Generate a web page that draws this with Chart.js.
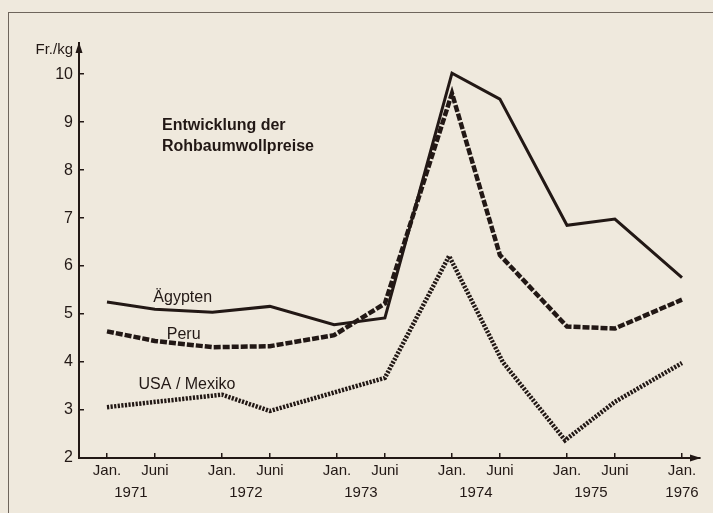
<!DOCTYPE html>
<html>
<head>
<meta charset="utf-8">
<script src="https://cdn.jsdelivr.net/npm/chart.js@4.4.1/dist/chart.umd.min.js"></script>
<style>
  html, body { margin: 0; padding: 0; background: #efe9dd; }
  .wrap { position: relative; width: 713px; height: 513px; overflow: hidden; }
  .frame { position: absolute; left: 8px; top: 12px; width: 900px; height: 700px;
           border-top: 1.5px solid #6e655c; border-left: 1.5px solid #6e655c; }
  canvas { position: absolute; left: 0; top: 0; }
</style>
</head>
<body>
<div class="wrap">
  <div class="frame"></div>
  <canvas id="chart" width="713" height="513"></canvas>
</div>
<script>
// months counted from Jan. 1971
const egyptMonths = [0, 5, 11, 17, 23.7, 29, 36, 41, 48, 53, 60];
const egyptPrices = [5.25, 5.1, 5.04, 5.16, 4.78, 4.92, 10.02, 9.48, 6.85, 6.98, 5.76];

const peruMonths = [0, 5, 11, 17, 23.7, 29, 36, 41, 48, 53, 60];
const peruPrices = [4.64, 4.44, 4.31, 4.33, 4.56, 5.22, 9.6, 6.23, 4.74, 4.7, 5.3];

const usaMonths = [0, 12, 17, 29, 35.7, 41.3, 47.8, 53, 60];
const usaPrices = [3.06, 3.32, 2.98, 3.67, 6.21, 4.0, 2.37, 3.17, 3.98];

const monthTicks = [0, 5, 12, 17, 24, 29, 36, 41, 48, 53, 60];
const monthLabels = ['Jan.', 'Juni', 'Jan.', 'Juni', 'Jan.', 'Juni', 'Jan.', 'Juni', 'Jan.', 'Juni', 'Jan.'];
const yearTicks = [2.5, 14.5, 26.5, 38.5, 50.5, 60];
const yearLabels = ['1971', '1972', '1973', '1974', '1975', '1976'];
const priceTicks = [2, 3, 4, 5, 6, 7, 8, 9, 10];

const ink = '#221815';
const font = "'Liberation Sans', Arial, sans-serif";

const toPoints = (xs, ys) => xs.map((x, i) => ({ x: x, y: ys[i] }));

// text placed in data coordinates
const notes = [
    { text: 'Ägypten', x: 7.9, y: 5.35, align: 'center', bold: false },
    { text: 'Peru', x: 8.0, y: 4.58, align: 'center', bold: false },
    { text: 'USA / Mexiko', x: 8.35, y: 3.54, align: 'center', bold: false },
    { text: 'Entwicklung der', x: 5.74, y: 8.92, align: 'left', bold: true },
    { text: 'Rohbaumwollpreise', x: 5.74, y: 8.5, align: 'left', bold: true }
];

const decorations = {
    id: 'decorations',
    afterDraw(chart) {
        const ctx = chart.ctx;
        const area = chart.chartArea;
        const xs = chart.scales.x;
        const ys = chart.scales.y;
        ctx.save();
        ctx.fillStyle = ink;
        // axis arrows
        ctx.beginPath();
        ctx.moveTo(area.left, area.top - 1);
        ctx.lineTo(area.left - 3.5, area.top + 10);
        ctx.lineTo(area.left + 3.5, area.top + 10);
        ctx.closePath();
        ctx.fill();
        ctx.beginPath();
        ctx.moveTo(area.right + 1, area.bottom);
        ctx.lineTo(area.right - 10, area.bottom - 3.5);
        ctx.lineTo(area.right - 10, area.bottom + 3.5);
        ctx.closePath();
        ctx.fill();
        // unit label
        ctx.font = '15px ' + font;
        ctx.textAlign = 'right';
        ctx.textBaseline = 'middle';
        ctx.fillText('Fr./kg', area.left - 6, area.top + 7);
        // series labels and title
        notes.forEach(n => {
            ctx.font = (n.bold ? 'bold ' : '') + '16px ' + font;
            ctx.textAlign = n.align;
            ctx.fillText(n.text, xs.getPixelForValue(n.x), ys.getPixelForValue(n.y));
        });
        ctx.restore();
    }
};

new Chart(document.getElementById('chart'), {
    type: 'line',
    data: {
        datasets: [
            {
                label: 'Ägypten',
                data: toPoints(egyptMonths, egyptPrices),
                borderColor: ink,
                borderWidth: 3,
                pointRadius: 0,
                tension: 0
            },
            {
                label: 'Peru',
                data: toPoints(peruMonths, peruPrices),
                borderColor: ink,
                borderWidth: 4.5,
                borderDash: [7, 2],
                pointRadius: 0,
                tension: 0
            },
            {
                label: 'USA / Mexiko',
                data: toPoints(usaMonths, usaPrices),
                borderColor: ink,
                borderWidth: 4.5,
                borderDash: [2.2, 1.4],
                pointRadius: 0,
                tension: 0
            }
        ]
    },
    options: {
        responsive: false,
        animation: false,
        layout: { padding: { top: 43, right: 13, bottom: 0, left: 0 } },
        plugins: {
            legend: { display: false },
            tooltip: { enabled: false }
        },
        scales: {
            x: {
                type: 'linear',
                position: 'bottom',
                min: -2.92,
                max: 61.88,
                afterBuildTicks: scale => { scale.ticks = monthTicks.map(v => ({ value: v })); },
                afterFit: scale => { scale.height = 26; },
                ticks: {
                    autoSkip: false,
                    maxRotation: 0,
                    padding: 9,
                    color: ink,
                    font: { family: font, size: 15 },
                    callback: (value, index) => monthLabels[index]
                },
                grid: { drawOnChartArea: false, drawTicks: true, tickLength: -5, color: ink, lineWidth: 1.5 },
                border: { display: true, color: ink, width: 2 }
            },
            years: {
                type: 'linear',
                position: 'bottom',
                min: -2.92,
                max: 61.88,
                afterBuildTicks: scale => { scale.ticks = yearTicks.map(v => ({ value: v })); },
                afterFit: scale => { scale.height = 29; },
                ticks: {
                    autoSkip: false,
                    maxRotation: 0,
                    padding: 0,
                    color: ink,
                    font: { family: font, size: 15 },
                    callback: (value, index) => yearLabels[index]
                },
                grid: { display: false, drawTicks: false },
                border: { display: false }
            },
            y: {
                type: 'linear',
                min: 2,
                max: 10.65,
                afterBuildTicks: scale => { scale.ticks = priceTicks.map(v => ({ value: v })); },
                afterFit: scale => { scale.width = 79; },
                ticks: {
                    padding: 11,
                    color: ink,
                    font: { family: font, size: 16 }
                },
                grid: { drawOnChartArea: false, drawTicks: true, tickLength: -5, color: ink, lineWidth: 1.5 },
                border: { display: true, color: ink, width: 2 }
            }
        }
    },
    plugins: [decorations]
});
</script>
</body>
</html>
